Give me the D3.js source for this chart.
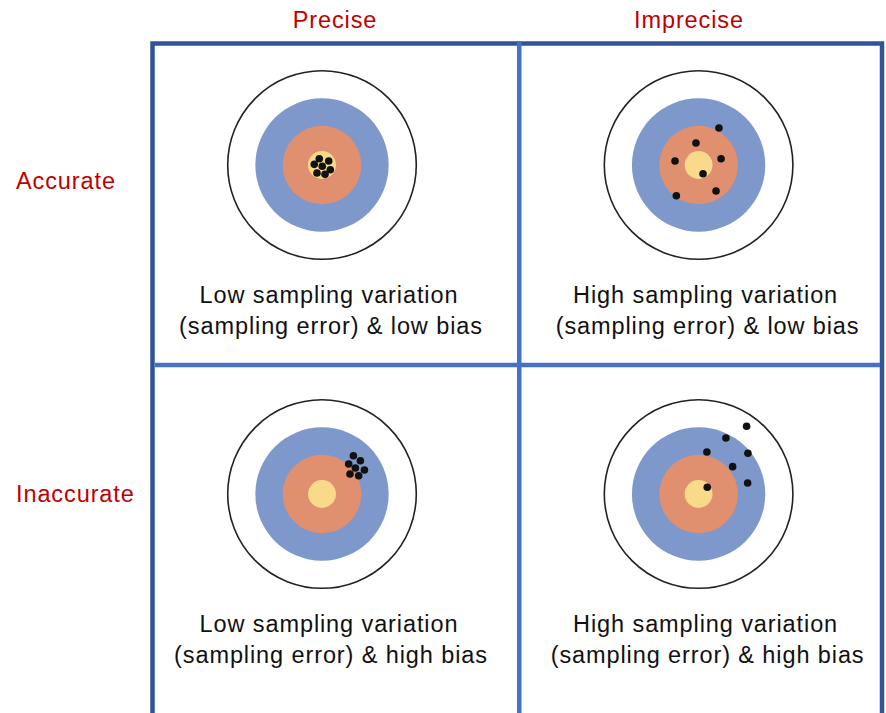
<!DOCTYPE html>
<meta charset="utf-8">
<script src="https://d3js.org/d3.v7.min.js"></script>
<style>
body { margin: 0; background: #fff; }
text { font-family: "Liberation Sans", Arial, Helvetica, sans-serif; font-size: 23.5px; letter-spacing: 0.9px; }
</style>
<body>
<div id="my_dataviz"></div>
<script>

// columns / rows of the 2x2 grid
const columns = ["Precise", "Imprecise"];
const rows = ["Accurate", "Inaccurate"];

// ring radii, in target units (outer ring = 100)
const rings = [100, 70.7, 41.7, 14.8];
const ringColors = ["#ffffff", "#7f98cc", "#e08f6f", "#f9da8b"];

// captions under each target
const captionLine1 = ["Low sampling variation", "High sampling variation", "Low sampling variation", "High sampling variation"];
const captionLine2 = ["(sampling error) & low bias", "(sampling error) & low bias", "(sampling error) & high bias", "(sampling error) & high bias"];

// shots, offsets from centre in target units (x right, y down)
const shotsAccPrecise = [[-2.9,-6.7],[7.1,-4.2],[-8.2,-0.7],[0.3,1.4],[8.8,5.0],[-5.3,8.5],[3.2,9.9]];
const shotsAccImprecise = [[21.6,-39.2],[-2.8,-23.3],[-25.0,-4.2],[23.8,-6.7],[4.7,9.2],[18.5,27.6],[-23.6,32.6]];
const shotsInaccPrecise = [[33.3,-40.6],[40.7,-35.3],[28.3,-31.8],[35.4,-27.6],[45.0,-25.4],[29.7,-21.2],[38.9,-19.4]];
const shotsInaccImprecise = [[50.9,-71.8],[29.0,-59.4],[8.8,-44.5],[52.3,-43.2],[36.1,-29.0],[52.0,-11.7],[9.2,-7.1]];

const panels = [
  {row: "Accurate", col: "Precise", shots: shotsAccPrecise},
  {row: "Accurate", col: "Imprecise", shots: shotsAccImprecise},
  {row: "Inaccurate", col: "Precise", shots: shotsInaccPrecise},
  {row: "Inaccurate", col: "Imprecise", shots: shotsInaccImprecise}
];
panels.forEach((p, i) => { p.cap1 = captionLine1[i]; p.cap2 = captionLine2[i]; });

const width = 886, height = 713;

const svg = d3.select("#my_dataviz")
  .append("svg")
    .attr("width", width)
    .attr("height", height);

// grid scales
const gx = d3.scaleBand().domain(columns).range([152.5, 882]);
const gy = d3.scaleBand().domain(rows).range([43.5, 686.5]);

// target centre scales
const tx = d3.scalePoint().domain(columns).range([322, 698.6]);
const ty = d3.scalePoint().domain(rows).range([165, 494]);
// target units -> pixels
const r = d3.scaleLinear().domain([0, 100]).range([0, 94.3]);

// header labels
const hx = d3.scalePoint().domain(columns).range([335, 689]);
const ly = d3.scalePoint().domain(rows).range([189, 502]);

svg.selectAll(".colLabel")
  .data(columns)
  .join("text")
    .attr("class", "colLabel")
    .attr("x", d => hx(d))
    .attr("y", 28)
    .attr("text-anchor", "middle")
    .attr("fill", "#c00000")
    .text(d => d);

svg.selectAll(".rowLabel")
  .data(rows)
  .join("text")
    .attr("class", "rowLabel")
    .attr("x", 16)
    .attr("y", d => ly(d))
    .attr("fill", "#c00000")
    .text(d => d);

// outer border
svg.append("rect")
  .attr("x", gx.range()[0])
  .attr("y", gy.range()[0])
  .attr("width", gx.range()[1] - gx.range()[0])
  .attr("height", 720)
  .attr("fill", "none")
  .attr("stroke", "#2f5597")
  .attr("stroke-width", 4.5);

// inner dividers
svg.append("line")
  .attr("x1", gx(columns[1]) + 2).attr("x2", gx(columns[1]) + 2)
  .attr("y1", 41).attr("y2", height + 5)
  .attr("stroke", "#4472c4").attr("stroke-width", 4.5);
svg.append("line")
  .attr("x1", 155).attr("x2", 880)
  .attr("y1", gy(rows[1])).attr("y2", gy(rows[1]))
  .attr("stroke", "#4472c4").attr("stroke-width", 4.5);

// targets
const g = svg.selectAll(".panel")
  .data(panels)
  .join("g")
    .attr("class", "panel")
    .attr("transform", d => `translate(${tx(d.col)},${ty(d.row)})`);

g.selectAll(".ring")
  .data(rings.map((v, i) => ({v, i})))
  .join("circle")
    .attr("class", "ring")
    .attr("r", d => r(d.v))
    .attr("fill", d => ringColors[d.i])
    .attr("stroke", d => d.i == 0 ? "#222" : "none")
    .attr("stroke-width", 1.6);

g.selectAll(".shot")
  .data(d => d.shots)
  .join("circle")
    .attr("class", "shot")
    .attr("cx", d => r(d[0]))
    .attr("cy", d => r(d[1]))
    .attr("r", 3.8)
    .attr("fill", "#111");

// captions
g.append("text")
  .attr("x", 7)
  .attr("y", 138)
  .attr("text-anchor", "middle")
  .attr("fill", "#111")
  .text(d => d.cap1);
g.append("text")
  .attr("x", 9)
  .attr("y", 169)
  .attr("text-anchor", "middle")
  .attr("fill", "#111")
  .text(d => d.cap2);

</script>
</body>
